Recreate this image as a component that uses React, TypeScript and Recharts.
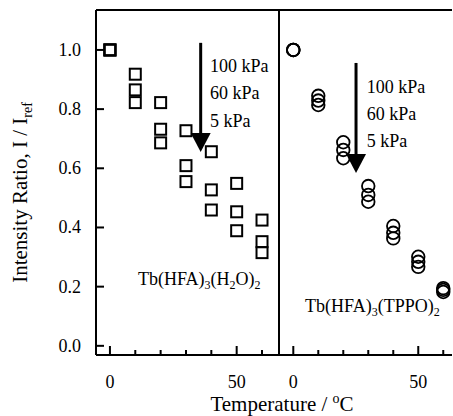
import { ScatterChart, Scatter, XAxis, YAxis, ReferenceLine, ReferenceDot } from 'recharts'

// temperatures (°C) and intensity ratios
const temps = [0, 10, 20, 30, 40, 50, 60]

// Tb(HFA)3(H2O)2, squares
const h2o100 = [1.0, 0.918, 0.822, 0.727, 0.656, 0.549, 0.425]
const h2o60 = [1.0, 0.865, 0.732, 0.609, 0.527, 0.453, 0.352]
const h2o5 = [1.0, 0.822, 0.686, 0.555, 0.459, 0.389, 0.315]

// Tb(HFA)3(TPPO)2, circles
const tppo100 = [1.0, 0.845, 0.688, 0.54, 0.405, 0.301, 0.195]
const tppo60 = [1.0, 0.829, 0.662, 0.51, 0.382, 0.284, 0.189]
const tppo5 = [1.0, 0.814, 0.634, 0.487, 0.363, 0.267, 0.182]

const pressures = ['100 kPa', '60 kPa', '5 kPa']
const xTicks = [0, 10, 20, 30, 40, 50, 60]
const xLabels = [0, 50]
const yTicks = [0, 0.2, 0.4, 0.6, 0.8, 1.0]

const yDomain: [number, number] = [-0.031, 1.135]
const leftX: [number, number] = [-5.5, 66.7]
const rightX: [number, number] = [-5.72, 63.5]

const font = "Liberation Serif, Times New Roman, serif"

const pts = (ys: number[]) => temps.map((t, i) => ({ t, v: ys[i] }))

function Square(props: any) {
	const { cx, cy } = props
	return <rect x={cx - 5.5} y={cy - 5.5} width={11} height={11} fill="none" stroke="#000" strokeWidth={2} />
}

function Ring(props: any) {
	const { cx, cy } = props
	return <circle cx={cx} cy={cy} r={6.3} fill="none" stroke="#000" strokeWidth={1.8} />
}

function XTick(props: any) {
	const { x, y, payload } = props
	const major = xLabels.includes(payload.value)
	return (
		<g>
			<line x1={x} x2={x} y1={y} y2={y - (major ? 9 : 5)} stroke="#000" strokeWidth={2} />
			{major && (
				<text x={x} y={y + 33} textAnchor="middle" fontSize={18} style={{ fontFamily: font }} fill="#000">
					{payload.value}
				</text>
			)}
		</g>
	)
}

function YTick(props: any) {
	const { x, y, payload } = props
	return (
		<g>
			<line x1={x} x2={x + 8} y1={y} y2={y} stroke="#000" strokeWidth={2} />
			<text x={x - 15} y={y + 6} textAnchor="end" fontSize={18} style={{ fontFamily: font }} fill="#000">
				{Number(payload.value).toFixed(1)}
			</text>
		</g>
	)
}

function YTitle(props: any) {
	const vb = props.viewBox || { x: 0, y: 10, width: 96, height: 345 }
	const cx = vb.x + 27
	const cy = vb.y + vb.height / 2 + 10
	return (
		<text x={cx} y={cy} transform={`rotate(-90 ${cx} ${cy})`} textAnchor="middle" fontSize={21} style={{ fontFamily: font }} fill="#000">
			Intensity Ratio, I / I
			<tspan fontSize={14} dy={5}>ref</tspan>
		</text>
	)
}

function XTitle(props: any) {
	const vb = props.viewBox || { x: 96, y: 355, width: 183, height: 30 }
	return (
		<text x={vb.x + 186} y={vb.y + 56} textAnchor="middle" fontSize={21} style={{ fontFamily: font }} fill="#000">
			Temperature / <tspan fontSize={14} dy={-8}>o</tspan>
			<tspan dy={8}>C</tspan>
		</text>
	)
}

const note = (label: string) => (p: any) => (
	<text x={p.cx} y={p.cy} fontSize={18} style={{ fontFamily: font }} fill="#000">
		{label}
	</text>
)

const arrowHead = (p: any) => (
	<path d={`M${p.cx - 10},${p.cy - 19} L${p.cx + 10},${p.cy - 19} L${p.cx},${p.cy} Z`} fill="#000" />
)

const compound = (ligand: string[]) => (p: any) => (
	<text x={p.cx} y={p.cy} fontSize={18} style={{ fontFamily: font }} fill="#000">
		Tb(HFA)
		<tspan fontSize={12} dy={4}>3</tspan>
		<tspan dy={-4}>{ligand[0]}</tspan>
		{ligand.length > 1 && (
			<>
				<tspan fontSize={12} dy={4}>2</tspan>
				<tspan dy={-4}>{ligand[1]}</tspan>
			</>
		)}
		<tspan fontSize={12} dy={4}>2</tspan>
	</text>
)

export default function App() {
	return (
		<div style={{ position: 'absolute', left: 0, top: 0, width: 453, height: 416, background: '#fff', fontFamily: font }}>
			<div style={{ position: 'absolute', left: 0, top: 0 }}>
				<ScatterChart width={453} height={416} margin={{ top: 10, right: 174, bottom: 31, left: 0 }}>
					<XAxis
						type="number"
						dataKey="t"
						domain={leftX}
						ticks={xTicks}
						interval={0}
						allowDataOverflow
						tickSize={0}
						tickMargin={0}
						tickLine={false}
						height={30}
						axisLine={{ stroke: '#000', strokeWidth: 2 }}
						tick={<XTick />}
						label={<XTitle />}
					/>
					<YAxis
						type="number"
						dataKey="v"
						domain={yDomain}
						ticks={yTicks}
						interval={0}
						allowDataOverflow
						width={96}
						tickSize={0}
						tickMargin={0}
						tickLine={false}
						axisLine={{ stroke: '#000', strokeWidth: 2 }}
						tick={<YTick />}
						label={<YTitle />}
					/>
					<ReferenceLine y={yDomain[1]} stroke="#000" strokeWidth={2} />
					<Scatter data={pts(h2o100)} shape={<Square />} isAnimationActive={false} />
					<Scatter data={pts(h2o60)} shape={<Square />} isAnimationActive={false} />
					<Scatter data={pts(h2o5)} shape={<Square />} isAnimationActive={false} />
					<ReferenceLine segment={[{ x: 35.8, y: 1.024 }, { x: 35.8, y: 0.7 }]} stroke="#000" strokeWidth={3} />
					<ReferenceDot x={35.8} y={0.655} shape={arrowHead} />
					<ReferenceDot x={39.5} y={0.927} shape={note(pressures[0])} />
					<ReferenceDot x={39.5} y={0.834} shape={note(pressures[1])} />
					<ReferenceDot x={39.5} y={0.741} shape={note(pressures[2])} />
					<ReferenceDot x={11.05} y={0.205} shape={compound(['(H', 'O)'])} />
				</ScatterChart>
			</div>
			<div style={{ position: 'absolute', left: 270, top: 0 }}>
				<ScatterChart width={183} height={416} margin={{ top: 10, right: 1, bottom: 31, left: 9 }}>
					<XAxis
						type="number"
						dataKey="t"
						domain={rightX}
						ticks={xTicks}
						interval={0}
						allowDataOverflow
						tickSize={0}
						tickMargin={0}
						tickLine={false}
						height={30}
						axisLine={{ stroke: '#000', strokeWidth: 2 }}
						tick={<XTick />}
					/>
					<YAxis type="number" dataKey="v" domain={yDomain} allowDataOverflow hide />
					<ReferenceLine x={rightX[0]} stroke="#000" strokeWidth={2} />
					<ReferenceLine y={yDomain[1]} stroke="#000" strokeWidth={2} />
					<Scatter data={pts(tppo100)} shape={<Ring />} isAnimationActive={false} />
					<Scatter data={pts(tppo60)} shape={<Ring />} isAnimationActive={false} />
					<Scatter data={pts(tppo5)} shape={<Ring />} isAnimationActive={false} />
					<ReferenceLine segment={[{ x: 25.1, y: 0.956 }, { x: 25.1, y: 0.63 }]} stroke="#000" strokeWidth={3} />
					<ReferenceDot x={25.1} y={0.584} shape={arrowHead} />
					<ReferenceDot x={29.4} y={0.855} shape={note(pressures[0])} />
					<ReferenceDot x={29.4} y={0.763} shape={note(pressures[1])} />
					<ReferenceDot x={29.4} y={0.672} shape={note(pressures[2])} />
					<ReferenceDot x={4.7} y={0.115} shape={compound(['(TPPO)'])} />
				</ScatterChart>
			</div>
		</div>
	)
}
